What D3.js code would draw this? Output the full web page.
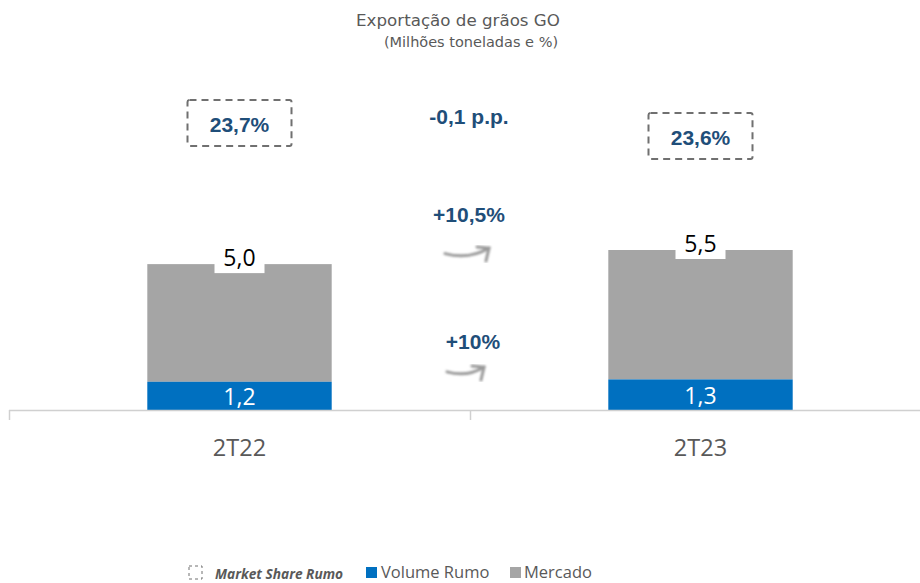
<!DOCTYPE html>
<html>
<head>
<meta charset="utf-8">
<script src="https://cdn.jsdelivr.net/npm/d3@7"></script>
<style>
  body { margin: 0; background: #fff; }
  svg { display: block; }
</style>
</head>
<body>
<div class="chart"></div>
<script>
var categories = ['2T22', '2T23'];
var volumeRumo = [1.2, 1.3];
var mercado = [5.0, 5.5];
var marketShare = [23.7, 23.6];
var shareDelta = '-0,1 p.p.';
var mercadoGrowth = '+10,5%';
var volumeGrowth = '+10%';

var fullWidth = 920;
var fullHeight = 583;
var baseY = 410;

var fmt = function (v) { return v.toFixed(1).replace('.', ','); };

var svg = d3.select('.chart')
            .append('svg')
            .attr('width', fullWidth)
            .attr('height', fullHeight);

var defs = svg.append('defs');
defs.append('filter').attr('id', 'blur')
    .append('feGaussianBlur').attr('stdDeviation', 1.1);

var x = d3.scaleBand()
          .domain(categories)
          .range([9, 931])
          .padding(0);

var y = d3.scaleLinear()
          .domain([0, 6.8])
          .range([baseY, 250]);

// secondary scale used for the market share boxes
var yShare = d3.scaleLinear()
               .domain([23.6, 23.7])
               .range([137, 124]);

var barW = x.bandwidth() * 0.4;

// title
svg.append('text')
   .attr('x', 458).attr('y', 26)
   .attr('text-anchor', 'middle')
   .style('font-family', "'DejaVu Sans', sans-serif")
   .style('font-size', '16.7px')
   .style('fill', '#595959')
   .text('Exportação de grãos GO');
svg.append('text')
   .attr('x', 471).attr('y', 47)
   .attr('text-anchor', 'middle')
   .style('font-family', "'DejaVu Sans', sans-serif")
   .style('font-size', '14.5px')
   .style('fill', '#595959')
   .text('(Milhões toneladas e %)');

// bars
var g = svg.selectAll('.cat')
           .data(categories)
           .enter().append('g')
           .attr('class', 'cat');

g.append('rect')
 .attr('x', function (d) { return x(d) + (x.bandwidth() - barW) / 2; })
 .attr('width', barW)
 .attr('y', function (d, i) { return y(volumeRumo[i] + mercado[i]); })
 .attr('height', function (d, i) { return y(volumeRumo[i]) - y(volumeRumo[i] + mercado[i]); })
 .style('fill', '#A5A5A5');

g.append('rect')
 .attr('x', function (d) { return x(d) + (x.bandwidth() - barW) / 2; })
 .attr('width', barW)
 .attr('y', function (d, i) { return y(volumeRumo[i]); })
 .attr('height', function (d, i) { return baseY - y(volumeRumo[i]); })
 .style('fill', '#0070C0');

// volume labels
g.append('text')
 .attr('x', function (d) { return x(d) + x.bandwidth() / 2; })
 .attr('y', function (d, i) { return (y(volumeRumo[i]) + baseY) / 2 + 9; })
 .attr('text-anchor', 'middle')
 .style('font-family', 'Open Sans, sans-serif')
 .style('font-size', '23px')
 .style('fill', '#fff')
 .text(function (d, i) { return fmt(volumeRumo[i]); });

// mercado labels in white boxes
g.append('rect')
 .attr('x', function (d) { return x(d) + x.bandwidth() / 2 - 25; })
 .attr('y', function (d, i) { return y(volumeRumo[i] + mercado[i]) - 20; })
 .attr('width', 50).attr('height', 29)
 .style('fill', '#fff');

g.append('text')
 .attr('x', function (d) { return x(d) + x.bandwidth() / 2; })
 .attr('y', function (d, i) { return y(volumeRumo[i] + mercado[i]) + 2; })
 .attr('text-anchor', 'middle')
 .style('font-family', 'Open Sans, sans-serif')
 .style('font-size', '23px')
 .style('fill', '#000')
 .text(function (d, i) { return fmt(mercado[i]); });

// market share boxes
g.append('rect')
 .attr('x', function (d) { return x(d) + x.bandwidth() / 2 - 52; })
 .attr('y', function (d, i) { return yShare(marketShare[i]) - 24; })
 .attr('width', 104).attr('height', 46)
 .attr('rx', 2)
 .style('fill', 'none')
 .style('stroke', '#707070')
 .style('stroke-width', 2)
 .style('stroke-dasharray', '7,5');

g.append('text')
 .attr('x', function (d) { return x(d) + x.bandwidth() / 2; })
 .attr('y', function (d, i) { return yShare(marketShare[i]) + 8; })
 .attr('text-anchor', 'middle')
 .style('font-family', 'Liberation Sans, Arial, sans-serif')
 .style('font-weight', 'bold')
 .style('font-size', '21px')
 .style('fill', '#1F4E79')
 .text(function (d, i) { return String(marketShare[i]).replace('.', ',') + '%'; });

// axis
var axis = svg.append('g');
axis.append('line')
    .attr('x1', 9).attr('x2', 920)
    .attr('y1', baseY + 0.5).attr('y2', baseY + 0.5)
    .style('stroke', '#D0D0D0').style('stroke-width', 1.5);
axis.selectAll('.tick')
    .data(categories)
    .enter().append('line')
    .attr('x1', function (d) { return x(d) + 0.5; })
    .attr('x2', function (d) { return x(d) + 0.5; })
    .attr('y1', baseY).attr('y2', 420)
    .style('stroke', '#D0D0D0').style('stroke-width', 1.5);
axis.selectAll('.lbl')
    .data(categories)
    .enter().append('text')
    .attr('x', function (d) { return x(d) + x.bandwidth() / 2; })
    .attr('y', 456)
    .attr('text-anchor', 'middle')
    .style('font-family', 'Open Sans, sans-serif')
    .style('font-size', '23.5px')
    .style('fill', '#595959')
    .text(function (d) { return d; });

// middle annotations
var midX = x(categories[1]);
var blue = '#1F4E79';
function note(txt, cx, cy) {
    svg.append('text')
       .attr('x', cx).attr('y', cy)
       .attr('text-anchor', 'middle')
       .style('font-family', 'Liberation Sans, Arial, sans-serif')
       .style('font-weight', 'bold')
       .style('font-size', '21px')
       .style('fill', blue)
       .text(txt);
}
note(shareDelta, midX - 1, 124);
note(mercadoGrowth, midX - 1, 222);
note(volumeGrowth, midX + 3, 349);

function arrow(x0, y0, w, h) {
    var ag = svg.append('g').attr('filter', 'url(#blur)')
                .style('fill', 'none').style('stroke', '#9A9A9A')
                .style('stroke-width', 3).style('stroke-linecap', 'round');
    ag.append('path')
      .attr('d', 'M' + x0 + ',' + (y0 + h * 0.35) +
                 ' Q' + (x0 + w * 0.55) + ',' + (y0 + h * 0.75) + ' ' + (x0 + w) + ',' + y0);
    ag.append('path')
      .attr('d', 'M' + (x0 + w - 12) + ',' + (y0 - 1) + ' L' + (x0 + w) + ',' + y0 +
                 ' L' + (x0 + w - 3) + ',' + (y0 + 13));
}
arrow(445, 248, 44, 16);
arrow(447, 367, 37, 14);

// legend
var leg = svg.append('g').attr('transform', 'translate(0,572)');
leg.append('rect')
   .attr('x', 189).attr('y', -6).attr('width', 13).attr('height', 13)
   .style('fill', 'none').style('stroke', '#707070')
   .style('stroke-width', 1).style('stroke-dasharray', '3,3');
leg.append('text')
   .attr('x', 215).attr('y', 7)
   .style('font-family', 'Open Sans, sans-serif')
   .style('font-style', 'italic').style('font-weight', 'bold')
   .style('font-size', '13.7px')
   .style('fill', '#595959')
   .text('Market Share Rumo');
leg.append('rect')
   .attr('x', 366).attr('y', -5).attr('width', 11).attr('height', 11)
   .style('fill', '#0070C0');
leg.append('text')
   .attr('x', 381).attr('y', 6)
   .style('font-family', 'Open Sans, sans-serif')
   .style('font-size', '16.5px')
   .style('fill', '#595959')
   .text('Volume Rumo');
leg.append('rect')
   .attr('x', 510).attr('y', -5).attr('width', 11).attr('height', 11)
   .style('fill', '#A5A5A5');
leg.append('text')
   .attr('x', 524).attr('y', 6)
   .style('font-family', 'Open Sans, sans-serif')
   .style('font-size', '16.5px')
   .style('fill', '#595959')
   .text('Mercado');
</script>
</body>
</html>
